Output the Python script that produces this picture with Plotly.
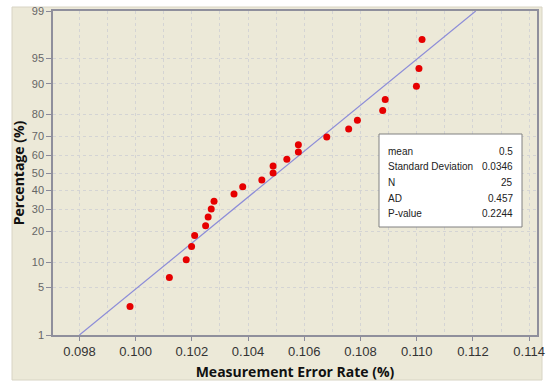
import plotly.graph_objects as go
from statistics import NormalDist

# ---- data ----
error_rate = [0.09980, 0.10120, 0.10180, 0.10199, 0.10210, 0.10249, 0.10258, 0.10269,
              0.10279, 0.10350, 0.10381, 0.10449, 0.10489, 0.10489, 0.10538, 0.10579,
              0.10579, 0.10680, 0.10758, 0.10789, 0.10879, 0.10888, 0.10999, 0.11008, 0.11019]
percentage = [2.76, 6.69, 10.63, 14.57, 18.50, 22.44, 26.38, 30.31, 34.25, 38.19, 42.13,
              46.06, 50.00, 53.94, 57.87, 61.81, 65.75, 69.69, 73.62, 77.56, 81.50,
              85.43, 89.37, 93.31, 97.24]
fit_x = [0.0980, 0.1121]
fit_pct = [1, 99]
y_ticks = [1, 5, 10, 20, 30, 40, 50, 60, 70, 80, 90, 95, 99]
x_ticks = [0.098, 0.100, 0.102, 0.104, 0.106, 0.108, 0.110, 0.112, 0.114]
stat_labels = ["mean", "Standard Deviation", "N", "AD", "P-value"]
stat_values = ["0.5", "0.0346", "25", "0.457", "0.2244"]

nd = NormalDist()
z = lambda p: nd.inv_cdf(p / 100.0)

W, H = 552, 383
L, R, T, B = 53, 537, 11, 335
pw, ph = R - L, B - T
px = lambda x: (x - L) / pw
py = lambda y: (B - y) / ph

fig = go.Figure()
fig.add_trace(go.Scatter(x=fit_x, y=[z(p) for p in fit_pct], mode="lines",
                         line=dict(color="#8c8cd8", width=1.2), hoverinfo="skip"))
fig.add_trace(go.Scatter(x=error_rate, y=[z(p) for p in percentage], mode="markers",
                         marker=dict(color="#e60000", size=7)))

# beige background panel
fig.add_shape(type="rect", xref="paper", yref="paper", layer="below",
              x0=px(12), x1=px(542), y0=py(380), y1=py(7),
              fillcolor="#ece9d8", line=dict(color="#d8d4c4", width=1))

# statistics box
fig.add_shape(type="rect", xref="paper", yref="paper",
              x0=px(379), x1=px(522), y0=py(227), y1=py(134),
              fillcolor="white", line=dict(color="#808080", width=1))
rows_y = [151, 166, 182, 198, 213]
for lab, val, ry in zip(stat_labels, stat_values, rows_y):
    fig.add_annotation(xref="paper", yref="paper", x=px(386), y=py(ry), text=lab,
                       showarrow=False, xanchor="left", yanchor="middle",
                       font=dict(family="Liberation Sans, Arial", size=10, color="#222"))
    fig.add_annotation(xref="paper", yref="paper", x=px(515), y=py(ry), text=val,
                       showarrow=False, xanchor="right", yanchor="middle",
                       font=dict(family="Liberation Sans, Arial", size=10, color="#222"))

fig.update_layout(
    width=W, height=H, showlegend=False,
    margin=dict(l=L, r=W - R, t=T, b=H - B, autoexpand=False),
    paper_bgcolor="white", plot_bgcolor="white",
    xaxis=dict(range=[0.09706, 0.11428], tickvals=x_ticks, automargin=False,
               ticktext=[f"{v:.3f}" for v in x_ticks],
               ticks="outside", ticklen=4, tickcolor="#8a8a9a",
               showline=True, linecolor="#8f8f9c", linewidth=1.5, mirror=True,
               showgrid=True, gridcolor="#d4d4d4", griddash="dot", gridwidth=1,
               minor=dict(dtick=0.001, tick0=0.098, showgrid=True, gridcolor="#d4d4d4", griddash="dot"),
               zeroline=False,
               tickfont=dict(family="Liberation Sans, Arial", size=13, color="#333"),
               title=dict(text="<b>Measurement Error Rate (%)</b>", standoff=9,
                          font=dict(family="Open Sans, DejaVu Sans", size=14, color="#111"))),
    yaxis=dict(range=[z(1), z(99)], tickvals=[z(p) for p in y_ticks], automargin=False,
               ticktext=[str(p) for p in y_ticks],
               ticks="outside", ticklen=5, tickcolor="#8a8a9a",
               showline=True, linecolor="#8f8f9c", linewidth=1.5, mirror=True,
               showgrid=True, gridcolor="#d4d4d4", griddash="dot", gridwidth=1,
               zeroline=False,
               tickfont=dict(family="Liberation Sans, Arial", size=11, color="#666"),
               title=dict(text="<b>Percentage (%)</b>", standoff=4,
                          font=dict(family="Open Sans, DejaVu Sans", size=14, color="#111"))),
)

fig.write_html("out.html", config={"displayModeBar": False},
               post_script="document.body.style.margin='0px';document.body.style.overflow='hidden';")
